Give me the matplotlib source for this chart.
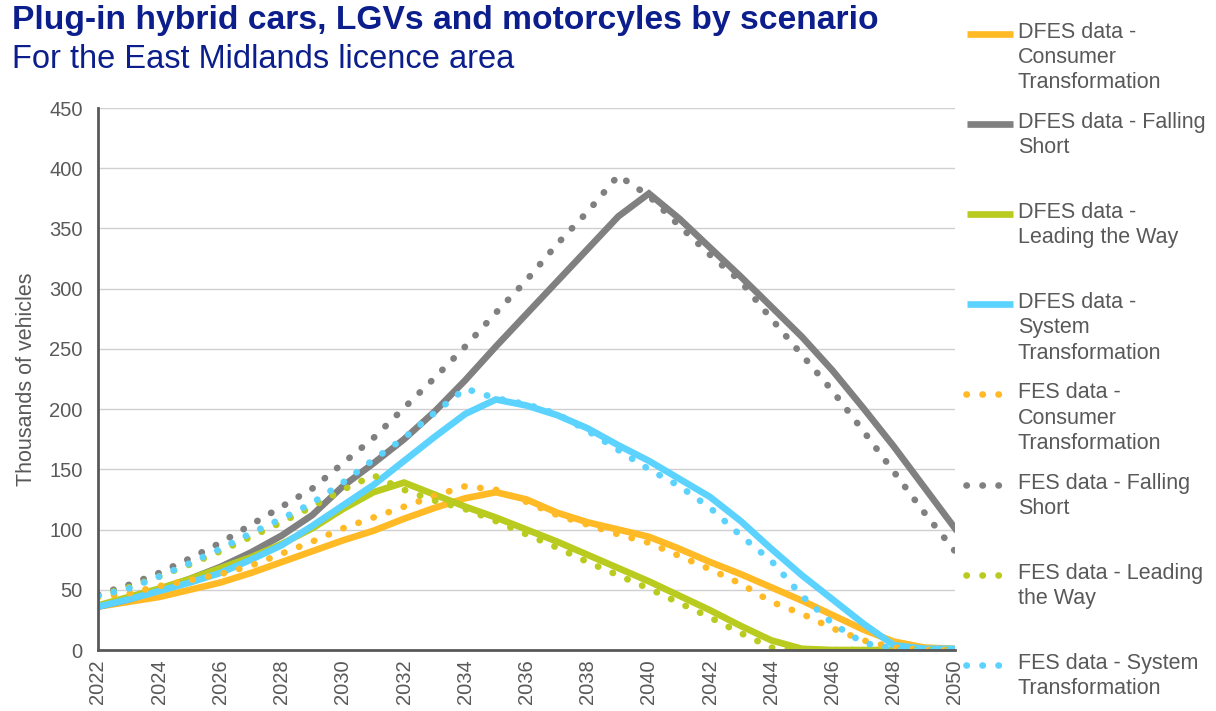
import numpy as np
import matplotlib
matplotlib.use('Agg')
import matplotlib.pyplot as plt
from matplotlib.lines import Line2D

plt.rcParams['font.family'] = ['Liberation Sans', 'DejaVu Sans']

years = list(range(2022, 2051))

dfes_ct = [36, 40, 44, 50, 56, 64, 73, 82, 91, 99, 109, 118, 126, 131, 125, 114, 106,
           100, 94, 84, 73, 63, 52, 41, 29, 17, 7, 2, 1]
dfes_fs = [36, 42, 50, 59, 69, 81, 95, 112, 136, 155, 175, 198, 224, 252, 279, 306, 333,
           360, 379, 358, 334, 310, 285, 260, 232, 201, 169, 135, 101]
dfes_lw = [37, 44, 51, 59, 68, 77, 88, 101, 117, 131, 139, 129, 119, 110, 100, 90, 79,
           68, 57, 45, 33, 20, 8, 1, 0, 0, 0, 0, 0]
dfes_st = [36, 42, 49, 56, 64, 75, 87, 103, 120, 137, 157, 177, 196, 208, 203, 195, 184,
           170, 157, 142, 127, 107, 84, 62, 42, 22, 4, 1, 1]

fes_ct = [44, 47, 53, 58, 63, 70, 80, 90, 101, 110, 119, 128, 136, 133, 123, 112, 104,
          96, 89, 78, 67, 55, 40, 30, 18, 8, 2, 0, 0]
fes_fs = [46, 54, 64, 76, 89, 104, 119, 134, 155, 176, 201, 226, 252, 280, 307, 337, 364,
          394, 377, 352, 328, 306, 275, 245, 215, 182, 148, 114, 82]
fes_lw = [45, 52, 61, 71, 82, 94, 106, 119, 133, 145, 133, 124, 117, 107, 96, 85, 73,
          62, 51, 39, 27, 14, 2, 0, 0, 0, 0, 0, 0]
fes_st = [45, 51, 61, 72, 84, 97, 109, 122, 139, 158, 176, 197, 217, 209, 204, 196, 182,
          166, 150, 136, 118, 95, 74, 45, 22, 6, 1, 0, 0]

labels = ['DFES data -\nConsumer\nTransformation', 'DFES data - Falling\nShort',
          'DFES data -\nLeading the Way', 'DFES data -\nSystem\nTransformation',
          'FES data -\nConsumer\nTransformation', 'FES data - Falling\nShort',
          'FES data - Leading\nthe Way', 'FES data - System\nTransformation']

colours = ['#FFBA26', '#808080', '#B9CB1E', '#5CD3FE']
navy = '#0B1E8C'
txt = '#595959'

fig = plt.figure(figsize=(12.16, 7.11), dpi=100)
ax = fig.add_axes([98 / 1216, 61 / 711, 857 / 1216, 542 / 711])

lw = 4.8
dot = (0, (0.05, 2.35))
for vals, c in zip([dfes_ct, dfes_fs, dfes_lw, dfes_st], colours):
    ax.plot(years, vals, color=c, lw=lw, solid_joinstyle='miter')
for vals, c in zip([fes_ct, fes_fs, fes_lw, fes_st], colours):
    ax.plot(years, vals, color=c, lw=lw, linestyle=dot, dash_capstyle='round')

ax.set_xlim(2022, 2050)
ax.set_ylim(0, 450)
ax.set_yticks(range(0, 451, 50))
ax.set_xticks(range(2022, 2051, 2))
ax.tick_params(axis='x', labelrotation=90, length=0, pad=7, labelsize=14.5, labelcolor=txt)
ax.tick_params(axis='y', length=0, pad=11, labelsize=14.5, labelcolor=txt)
ax.grid(axis='y', color='#D0D0D0', lw=1)
ax.set_axisbelow(True)
for s in ['top', 'right']:
    ax.spines[s].set_visible(False)
for s in ['left', 'bottom']:
    ax.spines[s].set_color('#595959')
    ax.spines[s].set_linewidth(2)
ax.set_ylabel('Thousands of vehicles', fontsize=15.5, color=txt, labelpad=9)

fig.text(12 / 1216, 1 - 21 / 711, 'Plug-in hybrid cars, LGVs and motorcyles by scenario',
         fontsize=24.2, fontweight='bold', color=navy, va='center')
fig.text(12 / 1216, 1 - 59 / 711, 'For the East Midlands licence area',
         fontsize=23.5, color=navy, va='center')

# legend, one entry per row, handle level with first line of text
W, H = 1216, 711
for i, lab in enumerate(labels):
    y = 34 + i * 90.1
    c = colours[i % 4]
    if i < 4:
        h = Line2D([967 / W, 1013 / W], [1 - y / H] * 2, color=c, lw=lw,
                   transform=fig.transFigure, solid_capstyle='butt')
    else:
        h = Line2D([966 / W, 1003 / W], [1 - y / H] * 2, color=c, lw=lw, linestyle=dot,
                   dash_capstyle='round', transform=fig.transFigure)
    fig.add_artist(h)
    fig.text(1018 / W, 1 - (y - 12) / H, lab, fontsize=15.5, color=txt, va='top',
             linespacing=1.26)

fig.savefig('out.png', dpi=100)
